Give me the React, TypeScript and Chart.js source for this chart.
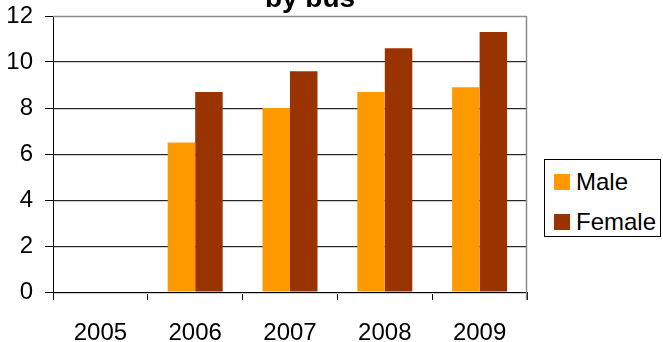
import React, { useEffect, useRef } from "react";
import { Chart, registerables } from "chart.js";

Chart.register(...registerables);

const categories = ["2005", "2006", "2007", "2008", "2009"];
const maleValues = [null, 6.5, 8.0, 8.7, 8.9];
const femaleValues = [null, 8.7, 9.6, 10.6, 11.3];
const seriesNames = ["Male", "Female"];
const seriesColors = ["#FF9900", "#993300"];
const titleText = "by bus";
const yMin = 0;
const yMax = 12;
const yStep = 2;

const FONT = '"Liberation Sans", Arial, sans-serif';

const plotBorder = {
  id: "plotBorder",
  beforeDatasetsDraw(chart: any) {
    const { ctx, chartArea, scales } = chart;
    const { left, right, top, bottom } = chartArea;
    ctx.save();
    // soft shadow under the gridlines
    ctx.strokeStyle = "#cfcfcf";
    ctx.lineWidth = 1;
    ctx.beginPath();
    scales.y.ticks.forEach((t: any) => {
      if (t.value === yMax) return;
      const py = Math.floor(scales.y.getPixelForValue(t.value)) + 1.5;
      ctx.moveTo(left + 1, py);
      ctx.lineTo(right, py);
    });
    ctx.stroke();
    // plot frame (top and right)
    ctx.strokeStyle = "#8c8c8c";
    ctx.lineWidth = 1.5;
    ctx.beginPath();
    ctx.moveTo(left, top + 0.5);
    ctx.lineTo(right, top + 0.5);
    ctx.moveTo(right - 0.5, top);
    ctx.lineTo(right - 0.5, bottom + 8);
    ctx.stroke();
    ctx.restore();
  },
};

export default function App() {
  const ref = useRef<HTMLCanvasElement | null>(null);

  useEffect(() => {
    if (!ref.current) return;
    const chart = new Chart(ref.current, {
      type: "bar",
      data: {
        labels: categories,
        datasets: [
          {
            label: seriesNames[0],
            data: maleValues as any,
            backgroundColor: seriesColors[0],
            borderWidth: 0,
          },
          {
            label: seriesNames[1],
            data: femaleValues as any,
            backgroundColor: seriesColors[1],
            borderWidth: 0,
          },
        ],
      },
      options: {
        responsive: false,
        animation: false,
        layout: { padding: { left: 0, right: 136, top: 16, bottom: 0 } },
        plugins: {
          legend: { display: false },
          title: { display: false },
          tooltip: { enabled: false },
        },
        datasets: {
          bar: { categoryPercentage: 0.58, barPercentage: 1 },
        },
        scales: {
          x: {
            afterFit: (s: any) => {
              s.height = 50;
              s.paddingLeft = 0;
              s.paddingRight = 0;
            },
            grid: {
              offset: true,
              drawOnChartArea: false,
              drawTicks: true,
              tickLength: 8,
              tickColor: "#000",
            },
            border: { color: "#000", width: 1 },
            ticks: {
              color: "#000",
              padding: 19,
              font: { family: FONT, size: 24 },
            },
          },
          y: {
            min: yMin,
            max: yMax,
            afterFit: (s: any) => {
              s.width = 53;
              s.paddingTop = 0;
              s.paddingBottom = 0;
            },
            ticks: {
              stepSize: yStep,
              color: "#000",
              padding: 12,
              font: { family: FONT, size: 24 },
            },
            grid: {
              color: (c: any) => (c.tick && c.tick.value === yMax ? "#8c8c8c" : "#262626"),
              lineWidth: 1,
              tickLength: 8,
              tickColor: "#000",
            },
            border: { color: "#000", width: 1 },
          },
        },
      },
      plugins: [plotBorder],
    });
    return () => chart.destroy();
  }, []);

  return (
    <div
      style={{
        position: "fixed",
        left: 0,
        top: 0,
        width: 663,
        height: 342,
        overflow: "hidden",
        background: "#fff",
        fontFamily: FONT,
      }}
    >
      <canvas ref={ref} width={663} height={342} style={{ position: "absolute", left: 0, top: 0 }} />
      <div
        style={{
          position: "absolute",
          left: 0,
          width: 620,
          top: -16,
          textAlign: "center",
          fontWeight: "bold",
          fontSize: 28,
          lineHeight: "28px",
          color: "#000",
          whiteSpace: "nowrap",
        }}
      >
        {titleText}
      </div>
      <div
        style={{
          position: "absolute",
          left: 544,
          top: 159,
          width: 117,
          height: 78,
          border: "1px solid #000",
          boxSizing: "border-box",
          background: "#fff",
        }}
      >
        {seriesNames.map((name, i) => (
          <div
            key={name}
            style={{
              position: "absolute",
              left: 9,
              top: i === 0 ? 10 : 50,
              height: 24,
              display: "flex",
              alignItems: "center",
              whiteSpace: "nowrap",
            }}
          >
            <span
              style={{
                display: "inline-block",
                width: 16,
                height: 16,
                background: seriesColors[i],
                marginRight: 6,
              }}
            />
            <span style={{ fontSize: 24, lineHeight: "24px", color: "#000" }}>{name}</span>
          </div>
        ))}
      </div>
    </div>
  );
}
